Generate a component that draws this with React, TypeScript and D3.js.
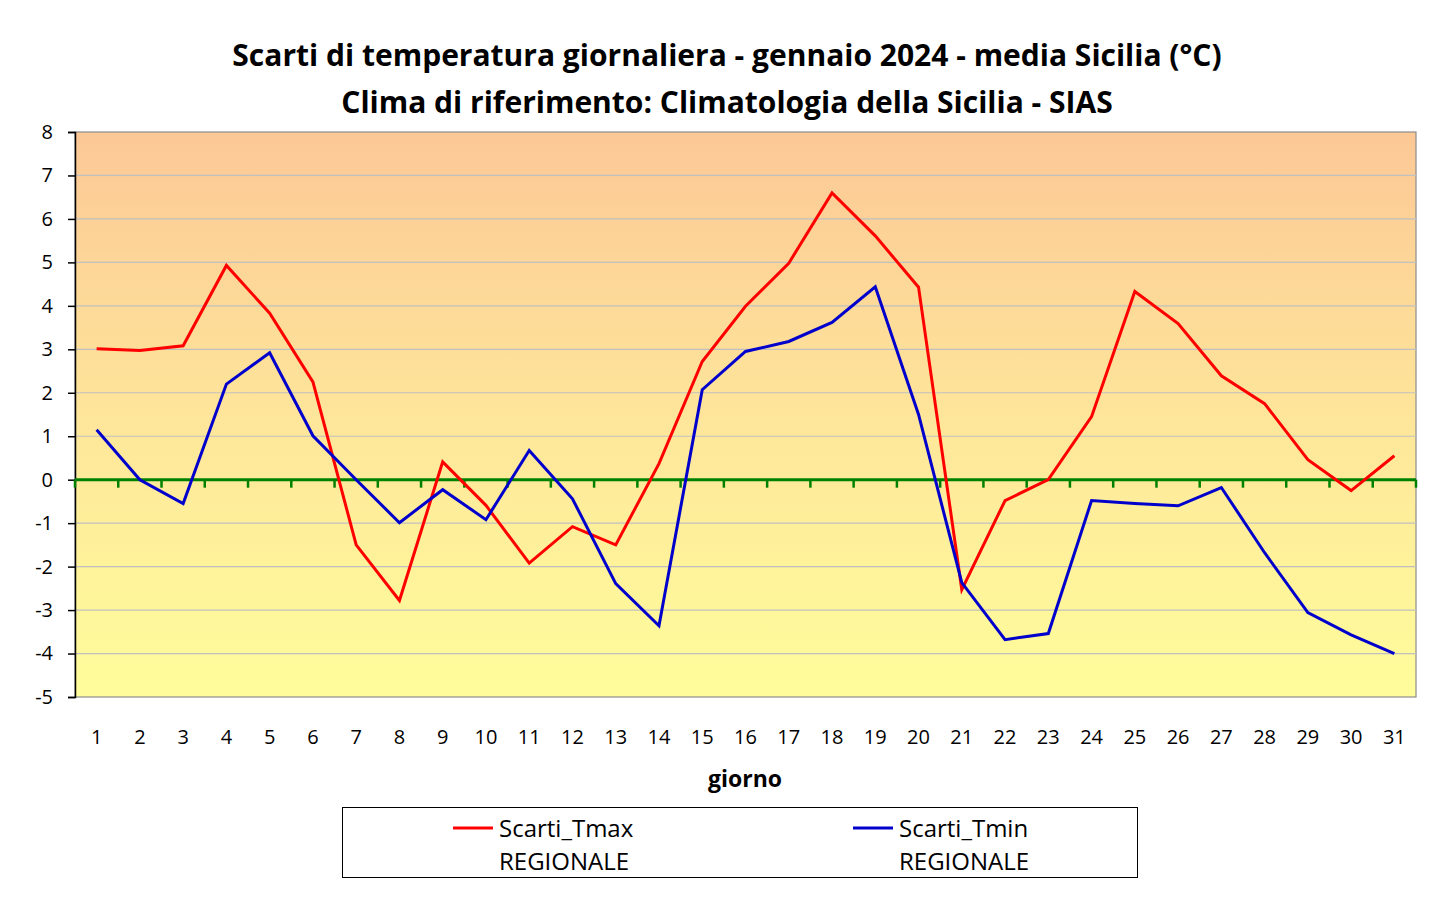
import { useEffect, useRef } from "react";
import * as d3 from "d3";

// daily temperature anomalies, January 2024, Sicily regional mean (°C)
const days = d3.range(1, 32).map(String);
const scartiTmax = [
  3.01, 2.97, 3.08, 4.93, 3.83, 2.25, -1.5, -2.78, 0.41, -0.59, -1.92, -1.08,
  -1.5, 0.37, 2.72, 3.99, 4.98, 6.6, 5.61, 4.43, -2.53, -0.48, 0.0, 1.45,
  4.33, 3.59, 2.39, 1.75, 0.46, -0.25, 0.55,
];
const scartiTmin = [
  1.15, 0.0, -0.55, 2.2, 2.92, 1.01, 0.0, -0.99, -0.23, -0.92, 0.67, -0.44,
  -2.39, -3.36, 2.07, 2.95, 3.18, 3.62, 4.44, 1.5, -2.37, -3.68, -3.54, -0.48,
  -0.55, -0.6, -0.18, -1.68, -3.06, -3.57, -4.0,
];
const yTicks = d3.range(-5, 9);

const titleLines = [
  "Scarti di temperatura giornaliera - gennaio 2024 - media Sicilia (°C)",
  "Clima di riferimento: Climatologia della Sicilia - SIAS",
];
const series = [
  { name: "Scarti_Tmax", sub: "REGIONALE", values: scartiTmax, color: "#FF0000" },
  { name: "Scarti_Tmin", sub: "REGIONALE", values: scartiTmin, color: "#0000CC" },
];

const W = 1455;
const H = 900;
const plot = { left: 75, right: 1416, top: 132, bottom: 697 };
const font = "'Open Sans', 'Noto Sans', sans-serif";

export default function App() {
  const ref = useRef<SVGSVGElement | null>(null);

  useEffect(() => {
    const svg = d3.select(ref.current);
    svg.selectAll("*").remove();

    const x = d3.scaleBand().domain(days).range([plot.left, plot.right]);
    const y = d3.scaleLinear().domain([-5, 8]).range([plot.bottom, plot.top]);
    const cx = (d: string) => (x(d) ?? 0) + x.bandwidth() / 2;

    // background gradient of the plot area
    const grad = svg
      .append("defs")
      .append("linearGradient")
      .attr("id", "bg")
      .attr("x1", 0)
      .attr("y1", 0)
      .attr("x2", 0)
      .attr("y2", 1);
    grad.append("stop").attr("offset", "0%").attr("stop-color", "#FCC896");
    grad.append("stop").attr("offset", "55%").attr("stop-color", "#FEE89A");
    grad.append("stop").attr("offset", "100%").attr("stop-color", "#FFFD9B");

    svg
      .append("rect")
      .attr("x", plot.left)
      .attr("y", plot.top)
      .attr("width", plot.right - plot.left)
      .attr("height", plot.bottom - plot.top)
      .attr("fill", "url(#bg)")
      .attr("stroke", "#8C8C8C")
      .attr("stroke-width", 1.2);

    // horizontal gridlines
    svg
      .append("g")
      .selectAll("line")
      .data(yTicks.filter((t) => t !== 0 && t !== -5 && t !== 8))
      .join("line")
      .attr("x1", plot.left)
      .attr("x2", plot.right)
      .attr("y1", (d) => y(d))
      .attr("y2", (d) => y(d))
      .attr("stroke", "#C0C0C0")
      .attr("stroke-width", 1.2);

    // y axis
    const yAxis = svg
      .append("g")
      .attr("transform", `translate(${plot.left},0)`)
      .call(
        d3
          .axisLeft(y)
          .tickValues(yTicks)
          .tickSize(7)
          .tickPadding(15)
          .tickFormat((d) => String(d))
      );
    yAxis.select(".domain").attr("stroke", "#000").attr("stroke-width", 1.5);
    yAxis.selectAll(".tick line").attr("stroke", "#000").attr("stroke-width", 1.5);
    yAxis
      .selectAll(".tick text")
      .attr("font-family", font)
      .attr("font-size", 20)
      .attr("fill", "#000");

    // zero line with category ticks
    const y0 = y(0);
    const bounds = d3.range(0, days.length + 1).map((i) => plot.left + i * x.step());
    svg
      .append("g")
      .selectAll("line")
      .data(bounds)
      .join("line")
      .attr("x1", (d) => d)
      .attr("x2", (d) => d)
      .attr("y1", y0)
      .attr("y2", y0 + 8)
      .attr("stroke", "#008000")
      .attr("stroke-width", 2.5);
    svg
      .append("line")
      .attr("x1", plot.left)
      .attr("x2", plot.right)
      .attr("y1", y0)
      .attr("y2", y0)
      .attr("stroke", "#008000")
      .attr("stroke-width", 3);

    // x category labels
    svg
      .append("g")
      .selectAll("text")
      .data(days)
      .join("text")
      .attr("x", (d) => cx(d))
      .attr("y", 744)
      .attr("text-anchor", "middle")
      .attr("font-family", font)
      .attr("font-size", 20)
      .text((d) => d);

    svg
      .append("text")
      .attr("x", 745)
      .attr("y", 787)
      .attr("text-anchor", "middle")
      .attr("font-family", font)
      .attr("font-weight", "bold")
      .attr("font-size", 23)
      .text("giorno");

    // series lines
    const line = d3
      .line<number>()
      .x((_, i) => cx(days[i]))
      .y((d) => y(d));
    svg
      .append("g")
      .selectAll("path")
      .data(series)
      .join("path")
      .attr("d", (s) => line(s.values))
      .attr("fill", "none")
      .attr("stroke", (s) => s.color)
      .attr("stroke-width", 3)
      .attr("stroke-linejoin", "miter");

    // title
    svg
      .append("g")
      .selectAll("text")
      .data(titleLines)
      .join("text")
      .attr("x", 727)
      .attr("y", (_, i) => 66 + i * 47)
      .attr("text-anchor", "middle")
      .attr("font-family", font)
      .attr("font-weight", "bold")
      .attr("font-size", 30)
      .text((d) => d);

    // legend
    const lg = svg.append("g");
    lg.append("rect")
      .attr("x", 342.5)
      .attr("y", 807.5)
      .attr("width", 795)
      .attr("height", 70)
      .attr("fill", "#fff")
      .attr("stroke", "#000")
      .attr("stroke-width", 1);
    const items = lg
      .selectAll("g")
      .data(series)
      .join("g")
      .attr("transform", (_, i) => `translate(${453 + i * 400},0)`);
    items
      .append("line")
      .attr("x1", 0)
      .attr("x2", 40)
      .attr("y1", 828)
      .attr("y2", 828)
      .attr("stroke", (s) => s.color)
      .attr("stroke-width", 3);
    items
      .append("text")
      .attr("x", 46)
      .attr("y", 837)
      .attr("font-family", font)
      .attr("font-size", 24)
      .text((s) => s.name);
    items
      .append("text")
      .attr("x", 46)
      .attr("y", 870)
      .attr("font-family", font)
      .attr("font-size", 24)
      .text((s) => s.sub);
  }, []);

  return <svg ref={ref} width={W} height={H} style={{ display: "block", margin: -8 }} />;
}
